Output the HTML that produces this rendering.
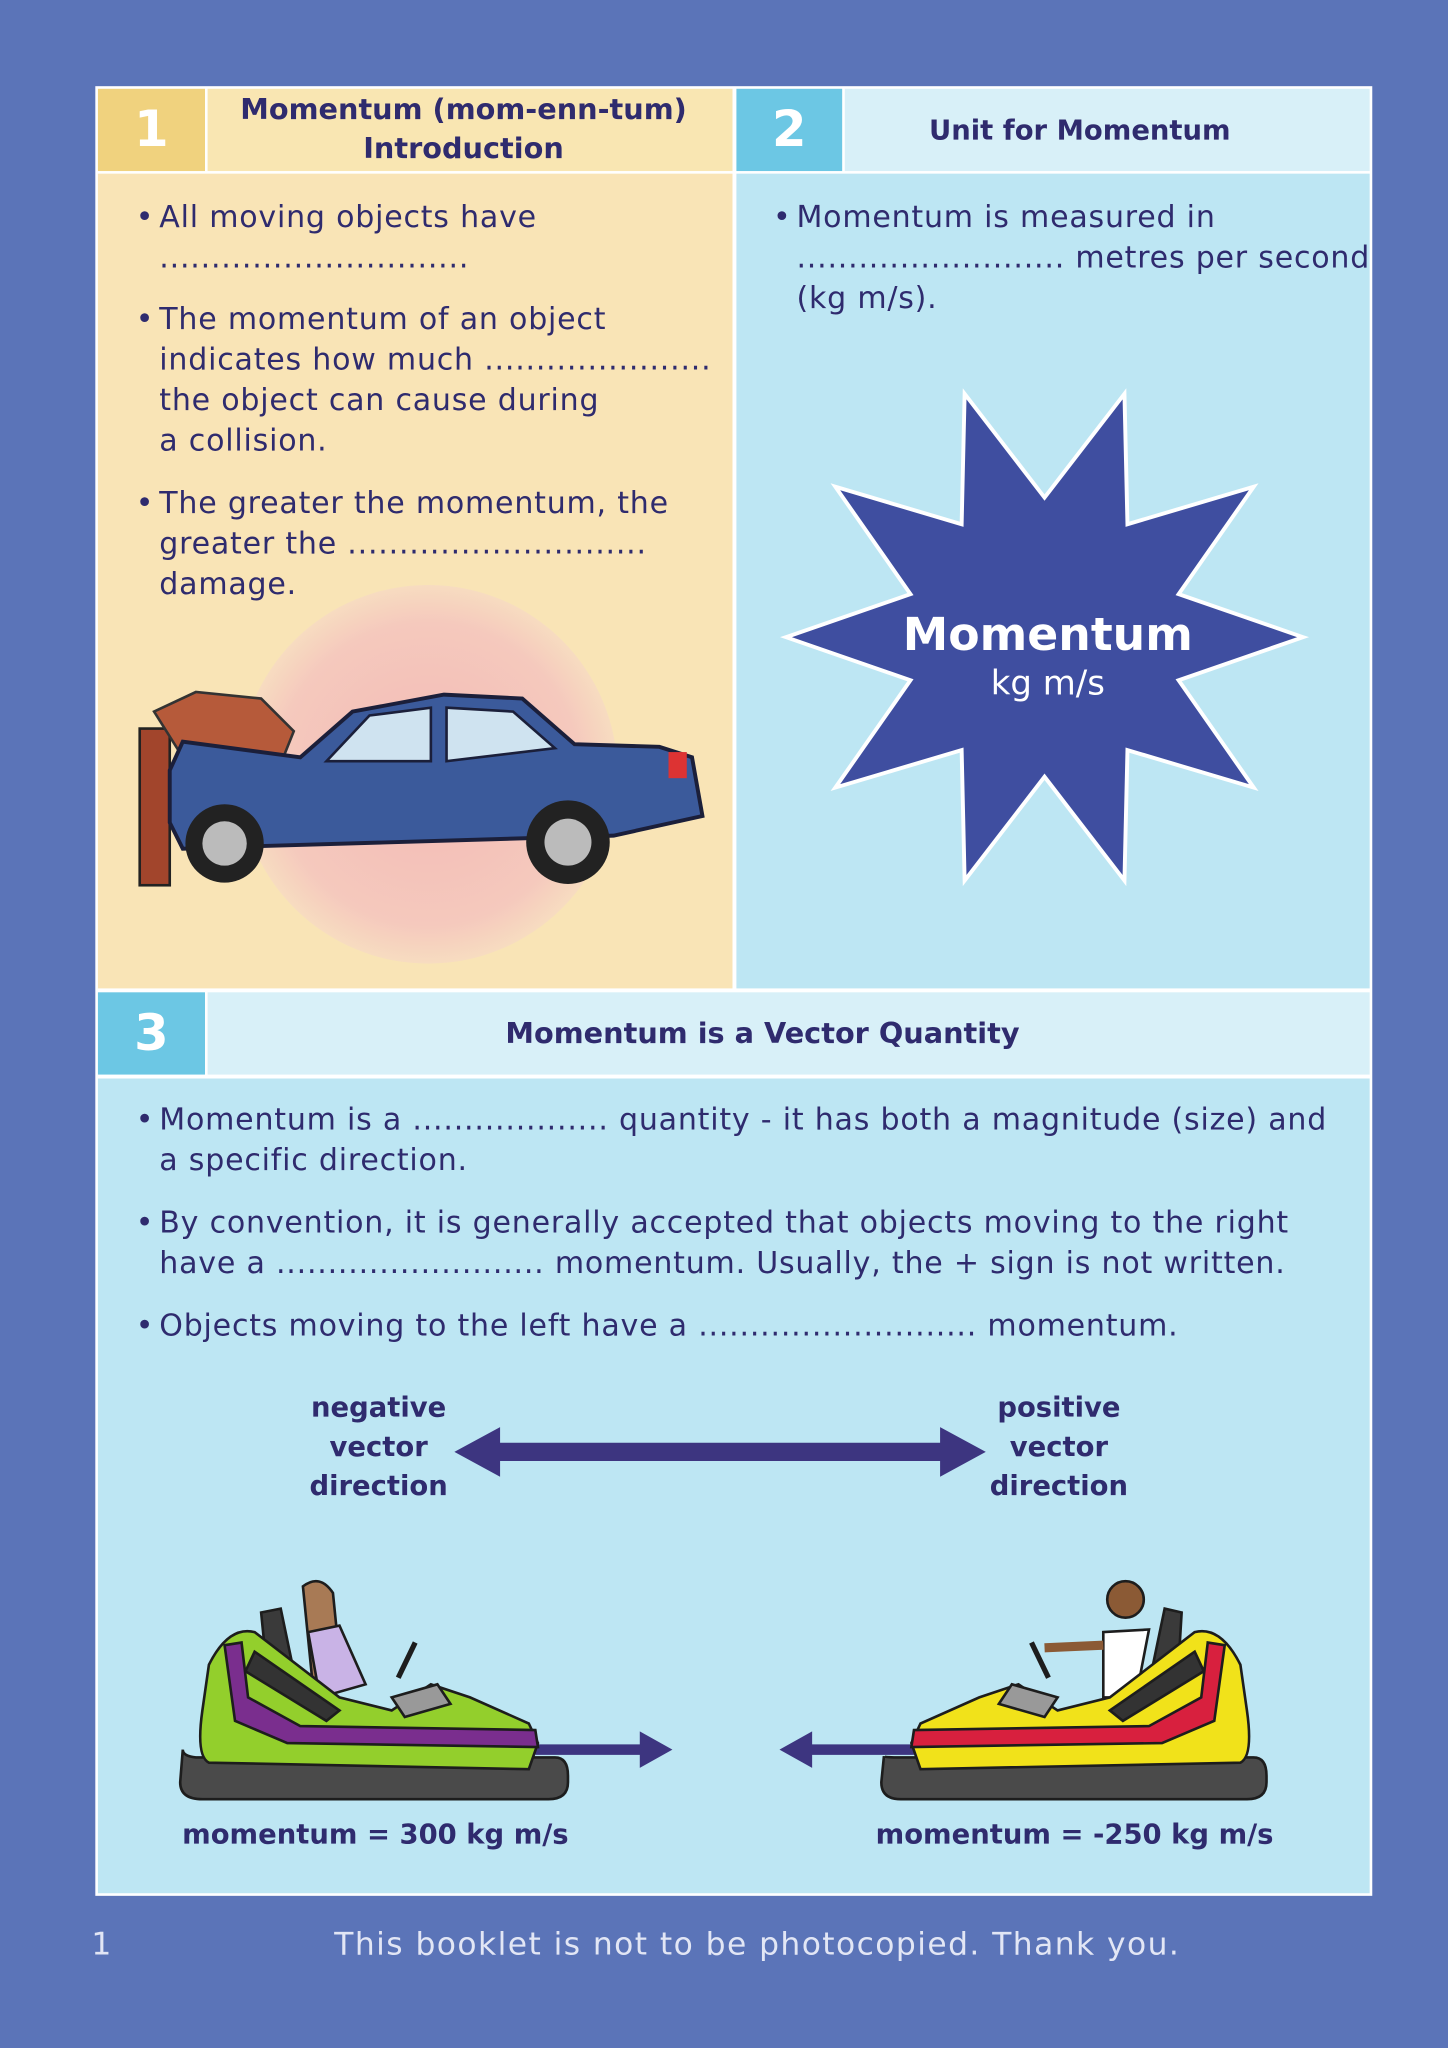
<!DOCTYPE html>
<html><head><meta charset="utf-8"><style>
html,body{margin:0;padding:0;width:1448px;height:2048px;overflow:hidden;background:#5b74b8}
#w{position:absolute;left:0;top:0;width:1109px;height:1568px;transform:scale(1.30568);transform-origin:0 0;font-family:"DejaVu Sans","Liberation Sans",sans-serif;color:#2f2b6e}
.a{position:absolute}
.t{position:absolute;font-size:23px;letter-spacing:0.6px;line-height:31px;white-space:nowrap}
.b{position:absolute;font-weight:bold;font-size:21px;line-height:30px;text-align:center;white-space:nowrap}
.n{position:absolute;color:#fff;font-size:38px;font-weight:bold;text-align:center;line-height:62px}
</style></head><body><div id="w">
<div class="a" style="left:73px;top:66px;width:978px;height:1386px;background:#fff"></div>
<div class="a" style="left:75px;top:68px;width:82px;height:63px;background:#f0d27e"></div>
<div class="n" style="left:75px;top:68px;width:82px;">1</div>
<div class="a" style="left:159px;top:68px;width:402px;height:63px;background:#f9e6b2"></div>
<div class="b" style="left:159px;top:70px;width:392px;font-size:22px">Momentum (mom-enn-tum)<br>Introduction</div>
<div class="a" style="left:564px;top:68px;width:81px;height:63px;background:#6cc7e4"></div>
<div class="n" style="left:564px;top:68px;width:81px;">2</div>
<div class="a" style="left:647px;top:68px;width:402px;height:63px;background:#d8f0f8"></div>
<div class="b" style="left:647px;top:85px;width:360px;">Unit for Momentum</div>
<div class="a" style="left:75px;top:133px;width:486px;height:624px;background:#f9e4b6"></div>
<div class="a" style="left:564px;top:133px;width:485px;height:624px;background:#bde6f3"></div>
<div class="a" style="left:75px;top:760px;width:82px;height:63px;background:#6cc7e4"></div>
<div class="n" style="left:75px;top:760px;width:82px;">3</div>
<div class="a" style="left:159px;top:760px;width:890px;height:63px;background:#d8f0f8"></div>
<div class="b" style="left:159px;top:778px;width:850px;font-size:22px">Momentum is a Vector Quantity</div>
<div class="a" style="left:75px;top:826px;width:974px;height:624px;background:#bde6f3"></div>

<div class="t" style="left:104px;top:152px">•</div>
<div class="t" style="left:122px;top:152px">All moving objects have<br>..............................</div>
<div class="t" style="left:104px;top:230px">•</div>
<div class="t" style="left:122px;top:230px">The momentum of an object<br>indicates how much ......................<br>the object can cause during<br>a collision.</div>
<div class="t" style="left:104px;top:371px">•</div>
<div class="t" style="left:122px;top:371px">The greater the momentum, the<br>greater the .............................<br>damage.</div>

<svg class="a" style="left:95px;top:440px" width="460" height="310" viewBox="95 440 460 310">
<defs><radialGradient id="g" cx="50%" cy="50%" r="50%"><stop offset="0" stop-color="#f3b9b5"/><stop offset="0.8" stop-color="#f5c9bd"/><stop offset="1" stop-color="#f7dcc0"/></radialGradient></defs>
<circle cx="328" cy="593" r="145" fill="url(#g)"/>
<rect x="107" y="558" width="23" height="120" fill="#a2452c" stroke="#222" stroke-width="2"/>
<path d="M118 545 L150 530 L200 535 L225 560 L215 585 L140 580 Z" fill="#b65a3a" stroke="#333" stroke-width="2"/>
<path d="M130 590 L140 568 L230 580 L270 545 L340 532 L400 535 L440 570 L505 572 L530 580 L538 625 L470 640 L200 648 L140 650 L130 630 Z" fill="#3b5a9b" stroke="#1b1f3a" stroke-width="3"/>
<path d="M250 583 L283 548 L330 542 L330 583 Z" fill="#cfe3f0" stroke="#1b1f3a" stroke-width="2"/>
<path d="M342 583 L342 542 L393 545 L425 573 Z" fill="#cfe3f0" stroke="#1b1f3a" stroke-width="2"/>
<circle cx="172" cy="646" r="30" fill="#222"/><circle cx="172" cy="646" r="17" fill="#bbb"/>
<circle cx="435" cy="645" r="32" fill="#222"/><circle cx="435" cy="645" r="18" fill="#bbb"/>
<rect x="512" y="576" width="14" height="20" fill="#d33"/>
</svg>

<div class="t" style="left:592px;top:152px">•</div>
<div class="t" style="left:610px;top:152px">Momentum is measured in<br>.......................... metres per second<br>(kg m/s).</div>
<svg class="a" style="left:590px;top:280px" width="420" height="420" viewBox="590 280 420 420">
<polygon id="star" fill="#3f4ea0" stroke="#fff" stroke-width="3" points=""/>
</svg>
<div class="a" style="left:600px;top:465px;width:405px;text-align:center;color:#fff;font-weight:bold;font-size:35px;line-height:44px">Momentum</div>
<div class="a" style="left:600px;top:507px;width:405px;text-align:center;color:#fff;font-size:26px;line-height:34px">kg m/s</div>

<div class="t" style="left:104px;top:843px">•</div>
<div class="t" style="left:122px;top:843px">Momentum is a ................... quantity - it has both a magnitude (size) and<br>a specific direction.</div>
<div class="t" style="left:104px;top:922px">•</div>
<div class="t" style="left:122px;top:922px">By convention, it is generally accepted that objects moving to the right<br>have a .......................... momentum. Usually, the + sign is not written.</div>
<div class="t" style="left:104px;top:1001px">•</div>
<div class="t" style="left:122px;top:1001px">Objects moving to the left have a ........................... momentum.</div>

<div class="b" style="left:190px;top:1063px;width:200px">negative<br>vector<br>direction</div>
<div class="b" style="left:711px;top:1063px;width:200px">positive<br>vector<br>direction</div>
<svg class="a" style="left:0;top:0" width="1109" height="1568">
<polygon points="348,1112 383,1093 383,1105 720,1105 720,1093 755,1112 720,1131 720,1119 383,1119 383,1131" fill="#3d3580"/>
<polygon points="410,1336 490,1336 490,1326 515,1340 490,1354 490,1344 410,1344" fill="#3d3580"/>
<polygon points="700,1336 622,1336 622,1326 597,1340 622,1354 622,1344 700,1344" fill="#3d3580"/>
<g stroke="#1d1d1d" stroke-width="2">
<path d="M140 1340 Q140 1345 150 1346 L425 1346 Q435 1346 435 1360 L435 1365 Q435 1378 420 1378 L155 1378 Q138 1378 138 1365 Z" fill="#4a4a4a"/>
<path d="M200 1235 L215 1232 L225 1280 L205 1285 Z" fill="#3a3a3a"/>
<path d="M232 1215 Q245 1205 255 1220 L262 1290 L240 1295 Z" fill="#a87a55"/>
<path d="M236 1250 L260 1245 L280 1290 L245 1300 Z" fill="#c9b3e6"/>
<path d="M160 1275 Q175 1245 195 1250 L260 1300 L300 1310 L330 1290 L360 1300 L405 1320 L412 1335 L405 1355 L160 1350 Q150 1345 155 1310 Z" fill="#93cf2c"/>
<path d="M172 1260 L185 1258 L190 1300 L230 1322 L410 1325 L412 1338 L220 1335 L180 1318 Z" fill="#7a2e8e"/>
<path d="M195 1265 L260 1310 L250 1318 L188 1280 Z" fill="#333"/>
<path d="M300 1300 L335 1290 L345 1305 L310 1315 Z" fill="#999"/>
<line x1="305" y1="1285" x2="318" y2="1258" stroke-width="4"/>
</g>
<g stroke="#1d1d1d" stroke-width="2">
<path d="M677 1345 Q677 1346 690 1346 L960 1346 Q970 1346 970 1360 L970 1365 Q970 1378 955 1378 L690 1378 Q675 1378 675 1365 Z" fill="#4a4a4a"/>
<path d="M905 1235 L892 1232 L882 1280 L902 1285 Z" fill="#3a3a3a"/>
<circle cx="862" cy="1225" r="14" fill="#8b5a35"/>
<path d="M845 1250 L880 1248 L870 1300 L845 1300 Z" fill="#fff"/>
<line x1="845" y1="1260" x2="800" y2="1262" stroke="#8b5a35" stroke-width="7"/>
<path d="M950 1275 Q935 1245 915 1250 L850 1300 L810 1310 L780 1290 L750 1300 L705 1320 L698 1335 L705 1355 L950 1350 Q960 1345 955 1310 Z" fill="#f1e21a"/>
<path d="M938 1260 L925 1258 L920 1300 L880 1322 L700 1325 L698 1338 L890 1335 L930 1318 Z" fill="#d8203e"/>
<path d="M915 1265 L850 1310 L860 1318 L922 1280 Z" fill="#333"/>
<path d="M810 1300 L775 1290 L765 1305 L800 1315 Z" fill="#999"/>
<line x1="803" y1="1285" x2="790" y2="1258" stroke-width="4"/>
</g>
</svg>
<div class="b" style="left:120px;top:1390px;width:335px">momentum = 300 kg m/s</div>
<div class="b" style="left:650px;top:1390px;width:346px">momentum = -250 kg m/s</div>

<div class="a" style="left:70px;top:1474px;color:#e2e6f5;font-size:24px;line-height:30px">1</div>
<div class="a" style="left:180px;top:1474px;width:800px;text-align:center;color:#e2e6f5;font-size:24px;letter-spacing:1.1px;line-height:30px">This booklet is not to be photocopied. Thank you.</div>
</div>
<script>
var p=[];for(var i=0;i<20;i++){var a=i*Math.PI/10;var r=(i%2==0)?198:108;p.push((800+r*Math.cos(a)).toFixed(1)+","+(488-r*Math.sin(a)*0.99).toFixed(1));}
document.getElementById("star").setAttribute("points",p.join(" "));
</script>
</body></html>
